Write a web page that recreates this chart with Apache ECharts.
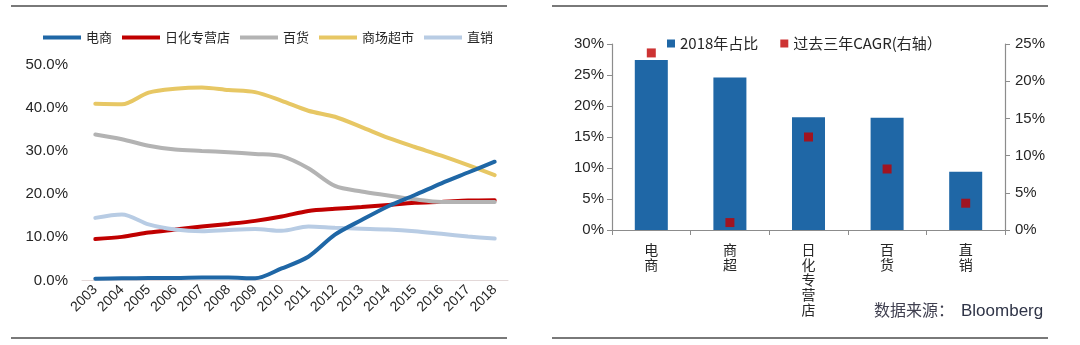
<!DOCTYPE html>
<html>
<head>
<meta charset="utf-8">
<script src="https://cdn.jsdelivr.net/npm/echarts@6/dist/echarts.min.js"></script>
<style>
  html, body { margin: 0; padding: 0; background: #fff; }
  #chart { width: 1080px; height: 345px; }
</style>
</head>
<body>
<div id="chart"></div>
<script>
// Channel share of sales, 2003-2018 (%)
const years = ['2003','2004','2005','2006','2007','2008','2009','2010','2011','2012','2013','2014','2015','2016','2017','2018'];
const ecommerce   = [0.4, 0.5, 0.6, 0.6, 0.7, 0.7, 0.5, 2.8, 5.5, 10.6, 14.0, 17.2, 19.8, 22.5, 25.0, 27.5];
const drugstore   = [9.6, 10.1, 11.1, 11.8, 12.5, 13.1, 13.8, 14.8, 16.1, 16.6, 17.0, 17.5, 18.0, 18.2, 18.5, 18.6];
const department  = [33.8, 32.7, 31.2, 30.3, 30.0, 29.7, 29.3, 28.8, 26.0, 21.9, 20.6, 19.7, 18.8, 18.2, 18.2, 18.2];
const supermarket = [40.9, 40.8, 43.5, 44.4, 44.7, 44.1, 43.6, 41.6, 39.3, 37.9, 35.5, 33.0, 30.9, 28.9, 26.7, 24.4];
const directSales = [14.5, 15.3, 13.0, 11.8, 11.4, 11.7, 11.9, 11.5, 12.5, 12.2, 12.0, 11.8, 11.4, 10.8, 10.2, 9.7];
const lineNames = ['电商', '日化专营店', '百货', '商场超市', '直销'];

// 2018 share by channel and 3-year CAGR (%)
const channels = ['电商', '商超', '日化专营店', '百货', '直销'];
const share2018 = [27.4, 24.6, 18.2, 18.1, 9.4];
const cagr3y    = [23.8, 1.0, 12.5, 8.2, 3.6];
const barNames = ['2018年占比', '过去三年CAGR(右轴）'];

const leftTicksMax = 50, leftTicksStep = 10;
const shareMax = 30, cagrMax = 25, rightStep = 5;

const CN = '"Noto Sans CJK SC", sans-serif';
const LAT = '"Liberation Sans", Arial, sans-serif';
const TXT = '#262626';

const lineColors = ['#1f67a6', '#c00000', '#b3b3b3', '#e7c764', '#b8cce4'];
const lineData = [ecommerce, drugstore, department, supermarket, directSales];

const chart = echarts.init(document.getElementById('chart'), null, { renderer: 'canvas' });

const lineSeries = lineNames.map((name, i) => ({
  name: name,
  type: 'line',
  xAxisIndex: 0,
  yAxisIndex: 0,
  data: lineData[i],
  smooth: 0.3,
  symbol: 'none',
  lineStyle: { width: 4, color: lineColors[i], cap: 'round' },
  itemStyle: { color: lineColors[i] },
  z: i === 0 ? 6 : 3
}));

const option = {
  animation: false,
  backgroundColor: '#ffffff',
  grid: [
    { left: 82, right: 572, top: 64.5, bottom: 64.5 },
    { left: 612, right: 75, top: 44, bottom: 115 }
  ],
  legend: [
    {
      data: lineNames,
      left: 38, top: 26,
      icon: 'rect',
      itemWidth: 38, itemHeight: 4,
      itemGap: 10,
      textStyle: { fontFamily: CN, fontSize: 13, color: TXT }
    },
    {
      data: barNames,
      left: 662, top: 31,
      icon: 'rect',
      itemWidth: 8, itemHeight: 8,
      itemGap: 22,
      textStyle: { fontFamily: CN, fontSize: 15, color: TXT }
    }
  ],
  xAxis: [
    {
      gridIndex: 0,
      type: 'category',
      data: years,
      boundaryGap: true,
      axisLine: { lineStyle: { color: '#e3d8d8', width: 1 } },
      axisTick: { show: false },
      axisLabel: { rotate: 45, margin: 7, fontFamily: LAT, fontSize: 14, color: TXT, interval: 0 }
    },
    {
      gridIndex: 1,
      type: 'category',
      data: channels,
      boundaryGap: true,
      axisLine: { lineStyle: { color: '#8c8c8c', width: 1.2 } },
      axisTick: { show: true, length: 5, lineStyle: { color: '#8c8c8c' } },
      axisLabel: {
        margin: 12, fontFamily: CN, fontSize: 14, color: TXT, lineHeight: 15, interval: 0,
        formatter: v => v.split('').join('\n')
      }
    }
  ],
  yAxis: [
    {
      gridIndex: 0,
      type: 'value',
      min: 0, max: leftTicksMax, interval: leftTicksStep,
      axisLine: { show: false },
      axisTick: { show: false },
      splitLine: { show: false },
      axisLabel: { margin: 14, fontFamily: LAT, fontSize: 15, color: TXT, formatter: v => v.toFixed(1) + '%' }
    },
    {
      gridIndex: 1,
      type: 'value',
      min: 0, max: shareMax, interval: rightStep,
      axisLine: { show: true, lineStyle: { color: '#8c8c8c', width: 1.2 } },
      axisTick: { show: true, inside: false, length: 5, lineStyle: { color: '#8c8c8c' } },
      splitLine: { show: false },
      axisLabel: { margin: 8, fontFamily: LAT, fontSize: 15, color: TXT, formatter: v => v + '%' }
    },
    {
      gridIndex: 1,
      type: 'value',
      position: 'right',
      min: 0, max: cagrMax, interval: rightStep,
      axisLine: { show: true, lineStyle: { color: '#8c8c8c', width: 1.2 } },
      axisTick: { show: true, inside: false, length: 5, lineStyle: { color: '#8c8c8c' } },
      splitLine: { show: false },
      axisLabel: { margin: 10, fontFamily: LAT, fontSize: 15, color: TXT, formatter: v => v + '%' }
    }
  ],
  series: lineSeries.concat([
    {
      name: barNames[0],
      type: 'bar',
      xAxisIndex: 1,
      yAxisIndex: 1,
      data: share2018,
      barWidth: '42%',
      itemStyle: { color: '#1f67a6' },
      z: 2
    },
    {
      name: barNames[1],
      type: 'scatter',
      xAxisIndex: 1,
      yAxisIndex: 2,
      data: cagr3y,
      symbol: 'rect',
      symbolSize: 9,
      itemStyle: { color: '#c00000' },
      z: 5
    }
  ]),
  graphic: [
    { type: 'line', shape: { x1: 11, y1: 6, x2: 507, y2: 6 }, style: { stroke: '#4d4d4d', lineWidth: 1.5 } },
    { type: 'line', shape: { x1: 11, y1: 338, x2: 507, y2: 338 }, style: { stroke: '#4d4d4d', lineWidth: 1.5 } },
    { type: 'line', shape: { x1: 552, y1: 6, x2: 1048, y2: 6 }, style: { stroke: '#4d4d4d', lineWidth: 1.5 } },
    { type: 'line', shape: { x1: 552, y1: 338, x2: 1048, y2: 338 }, style: { stroke: '#4d4d4d', lineWidth: 1.5 } },
    {
      type: 'text', left: 874, top: 302,
      style: { text: '数据来源：', font: '16px ' + CN, fill: '#3f3f4f' }
    },
    {
      type: 'text', left: 961, top: 303,
      style: { text: 'Bloomberg', font: '17px ' + LAT, fill: '#2f3447' }
    }
  ]
};

chart.setOption(option);
</script>
</body>
</html>
